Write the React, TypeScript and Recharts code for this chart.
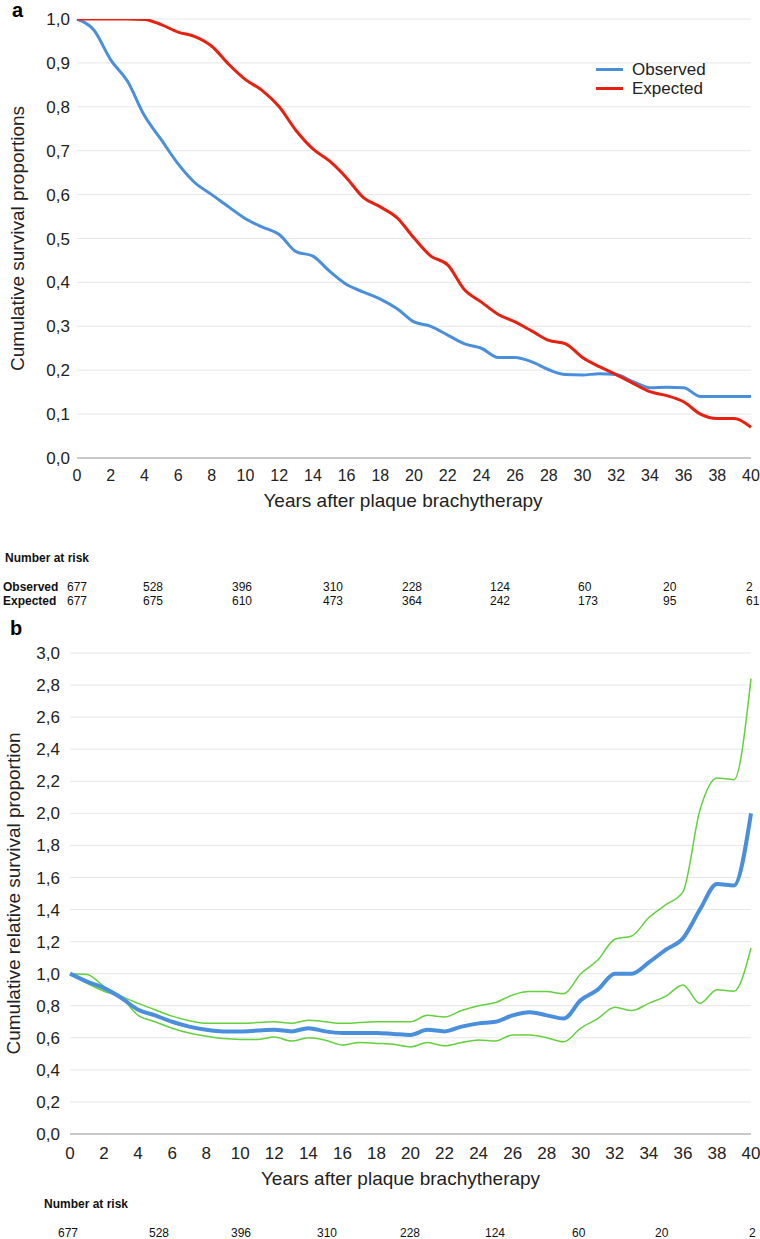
import { LineChart, Line, XAxis, YAxis, CartesianGrid, Legend } from 'recharts';

// years after treatment, one point per year
const years = [0, 1, 2, 3, 4, 5, 6, 7, 8, 9, 10, 11, 12, 13, 14, 15, 16, 17, 18, 19, 20,
    21, 22, 23, 24, 25, 26, 27, 28, 29, 30, 31, 32, 33, 34, 35, 36, 37, 38, 39, 40];

// panel a
const observed = [1.0, 0.975, 0.907, 0.858, 0.78, 0.725, 0.67, 0.627, 0.6, 0.572, 0.545,
    0.526, 0.509, 0.47, 0.46, 0.425, 0.395, 0.378, 0.362, 0.34, 0.31,
    0.3, 0.28, 0.26, 0.25, 0.229, 0.229, 0.219, 0.201, 0.19, 0.189,
    0.192, 0.19, 0.174, 0.16, 0.161, 0.16, 0.14, 0.14, 0.14, 0.14];
const expected = [1.0, 1.0, 1.0, 1.0, 0.999, 0.987, 0.97, 0.96, 0.938, 0.897, 0.862,
    0.837, 0.8, 0.746, 0.704, 0.676, 0.638, 0.593, 0.572, 0.547, 0.501,
    0.46, 0.44, 0.383, 0.355, 0.327, 0.31, 0.289, 0.268, 0.26, 0.229,
    0.208, 0.19, 0.17, 0.151, 0.142, 0.128, 0.1, 0.09, 0.09, 0.07];

// panel b
const relative = [1.0, 0.95, 0.91, 0.85, 0.775, 0.74, 0.7, 0.67, 0.65, 0.64, 0.64,
    0.645, 0.65, 0.64, 0.66, 0.64, 0.63, 0.63, 0.63, 0.624, 0.618,
    0.65, 0.64, 0.67, 0.69, 0.7, 0.74, 0.76, 0.74, 0.72, 0.835,
    0.9, 1.0, 1.0, 1.07, 1.15, 1.22, 1.4, 1.56, 1.55, 2.0];
const relUpper = [1.0, 0.995, 0.92, 0.86, 0.815, 0.775, 0.735, 0.707, 0.69, 0.69, 0.69,
    0.695, 0.7, 0.69, 0.71, 0.7, 0.69, 0.695, 0.7, 0.7, 0.7,
    0.74, 0.73, 0.77, 0.8, 0.82, 0.867, 0.888, 0.888, 0.875, 1.0,
    1.085, 1.215, 1.235, 1.35, 1.43, 1.51, 2.02, 2.22, 2.21, 2.84];
const relLower = [1.0, 0.94, 0.89, 0.85, 0.74, 0.7, 0.66, 0.63, 0.61, 0.595, 0.59,
    0.59, 0.605, 0.58, 0.6, 0.585, 0.555, 0.57, 0.565, 0.56, 0.543,
    0.57, 0.55, 0.57, 0.587, 0.58, 0.618, 0.618, 0.6, 0.575, 0.66,
    0.72, 0.79, 0.77, 0.815, 0.86, 0.93, 0.815, 0.9, 0.89, 1.16];

const xTicks = [0, 2, 4, 6, 8, 10, 12, 14, 16, 18, 20, 22, 24, 26, 28, 30, 32, 34, 36, 38, 40];
const yTicksA = [0, 0.1, 0.2, 0.3, 0.4, 0.5, 0.6, 0.7, 0.8, 0.9, 1.0];
const yTicksB = [0, 0.2, 0.4, 0.6, 0.8, 1.0, 1.2, 1.4, 1.6, 1.8, 2.0, 2.2, 2.4, 2.6, 2.8, 3.0];

// number at risk
const riskObserved = ['677', '528', '396', '310', '228', '124', '60', '20', '2'];
const riskExpected = ['677', '675', '610', '473', '364', '242', '173', '95', '61'];

const seriesOrder = ['Observed', 'Expected'];

const dataA = years.map((year, i) => ({ year, observed: observed[i], expected: expected[i] }));
const dataB = years.map((year, i) => ({ year, relative: relative[i], upper: relUpper[i], lower: relLower[i] }));

const BLUE = '#4a8fdb';
const RED = '#e8200f';
const GREEN = '#62d13c';
const FONT = '"Liberation Sans", Arial, sans-serif';

const fmt = (v: number) => v.toFixed(1).replace('.', ',');

// left edges of the risk table columns
const colA = [67, 143, 232, 323, 402, 490, 578, 663, 746];
const colB = [58, 149, 231, 317, 400, 485, 572, 655, 749];

const LegendBox = ({ payload }: any) => {
    const items = [...(payload || [])].sort((a: any, b: any) => seriesOrder.indexOf(a.value) - seriesOrder.indexOf(b.value));
    return (
        <div>
            {items.map((p: any) => (
                <div key={p.value} style={{ display: 'flex', alignItems: 'center', height: 19 }}>
                    <span style={{ display: 'inline-block', width: 27, height: 3, background: p.color, marginRight: 9 }} />
                    <span style={{ fontSize: 17, color: '#222', fontFamily: FONT }}>{p.value}</span>
                </div>
            ))}
        </div>
    );
};

const txt = (left: number, top: number, s: string, bold = false, key?: string) => (
    <div key={key} style={{ position: 'absolute', left, top, fontSize: 12, lineHeight: '14px', fontWeight: bold ? 'bold' : 'normal', color: '#111', whiteSpace: 'nowrap' }}>
        {s}
    </div>
);

const App = () => {
    return (
        <div style={{ position: 'absolute', left: 0, top: 0, width: 760, height: 1239, background: '#fff', fontFamily: FONT }}>
            <div style={{ position: 'absolute', left: 0, top: 0 }}>
                <LineChart width={760} height={560} data={dataA} margin={{ top: 19, right: 9, left: 0, bottom: 0 }}>
                    <CartesianGrid vertical={false} stroke="#e6e6e6" />
                    <XAxis
                        dataKey="year"
                        type="number"
                        domain={[0, 40]}
                        ticks={xTicks}
                        interval={0}
                        height={64}
                        stroke="#9e9e9e"
                        tickLine={false}
                        tickMargin={6}
                        tick={{ fontSize: 16, fill: '#222' }}
                        label={{ value: 'Years after plaque brachytherapy', position: 'insideBottom', offset: 15, dx: -11, style: { fontSize: 19, fill: '#222' } }}
                    />
                    <YAxis
                        domain={[0, 1]}
                        ticks={yTicksA}
                        interval={0}
                        width={77}
                        axisLine={false}
                        tickLine={false}
                        tickMargin={1}
                        tickFormatter={fmt}
                        tick={{ fontSize: 17, fill: '#222' }}
                        allowDataOverflow
                        label={{ value: 'Cumulative survival proportions', angle: -90, position: 'insideLeft', offset: 17, style: { textAnchor: 'middle', fontSize: 19, fill: '#222' } }}
                    />
                    <Legend content={<LegendBox />} wrapperStyle={{ top: 60, left: 596, width: 'auto' }} />
                    <Line type="monotone" dataKey="observed" name="Observed" stroke={BLUE} strokeWidth={3} dot={false} isAnimationActive={false} />
                    <Line type="monotone" dataKey="expected" name="Expected" stroke={RED} strokeWidth={3} dot={false} isAnimationActive={false} />
                </LineChart>
            </div>
            <div style={{ position: 'absolute', left: 12, top: 0, fontSize: 20, lineHeight: '20px', fontWeight: 'bold' }}>a</div>
            {txt(5, 551, 'Number at risk', true)}
            {txt(3, 580, 'Observed', true)}
            {txt(3, 594, 'Expected', true)}
            {riskObserved.map((n, i) => txt(colA[i], 580, n, false, 'o' + i))}
            {riskExpected.map((n, i) => txt(colA[i], 594, n, false, 'e' + i))}

            <div style={{ position: 'absolute', left: 0, top: 634 }}>
                <LineChart width={760} height={564} data={dataB} margin={{ top: 19, right: 9, left: 0, bottom: 0 }}>
                    <CartesianGrid vertical={false} stroke="#e6e6e6" />
                    <XAxis
                        dataKey="year"
                        type="number"
                        domain={[0, 40]}
                        ticks={xTicks}
                        interval={0}
                        height={64}
                        stroke="#9e9e9e"
                        tickLine={false}
                        tickMargin={7}
                        tick={{ fontSize: 17, fill: '#222' }}
                        label={{ value: 'Years after plaque brachytherapy', position: 'insideBottom', offset: 13, dx: -10, style: { fontSize: 19, fill: '#222' } }}
                    />
                    <YAxis
                        domain={[0, 3]}
                        ticks={yTicksB}
                        interval={0}
                        width={70}
                        axisLine={false}
                        tickLine={false}
                        tickMargin={4}
                        tickFormatter={fmt}
                        tick={{ fontSize: 17, fill: '#222' }}
                        label={{ value: 'Cumulative relative survival proportion', angle: -90, position: 'insideLeft', offset: 13, style: { textAnchor: 'middle', fontSize: 19, fill: '#222' } }}
                    />
                    <Line type="monotone" dataKey="upper" stroke={GREEN} strokeWidth={1.5} dot={false} isAnimationActive={false} />
                    <Line type="monotone" dataKey="lower" stroke={GREEN} strokeWidth={1.5} dot={false} isAnimationActive={false} />
                    <Line type="monotone" dataKey="relative" stroke={BLUE} strokeWidth={4} dot={false} isAnimationActive={false} />
                </LineChart>
            </div>
            <div style={{ position: 'absolute', left: 10, top: 618, fontSize: 20, lineHeight: '20px', fontWeight: 'bold' }}>b</div>
            {txt(44, 1197, 'Number at risk', true)}
            {riskObserved.map((n, i) => txt(colB[i], 1226, n, false, 'b' + i))}
        </div>
    );
};

export default App;
